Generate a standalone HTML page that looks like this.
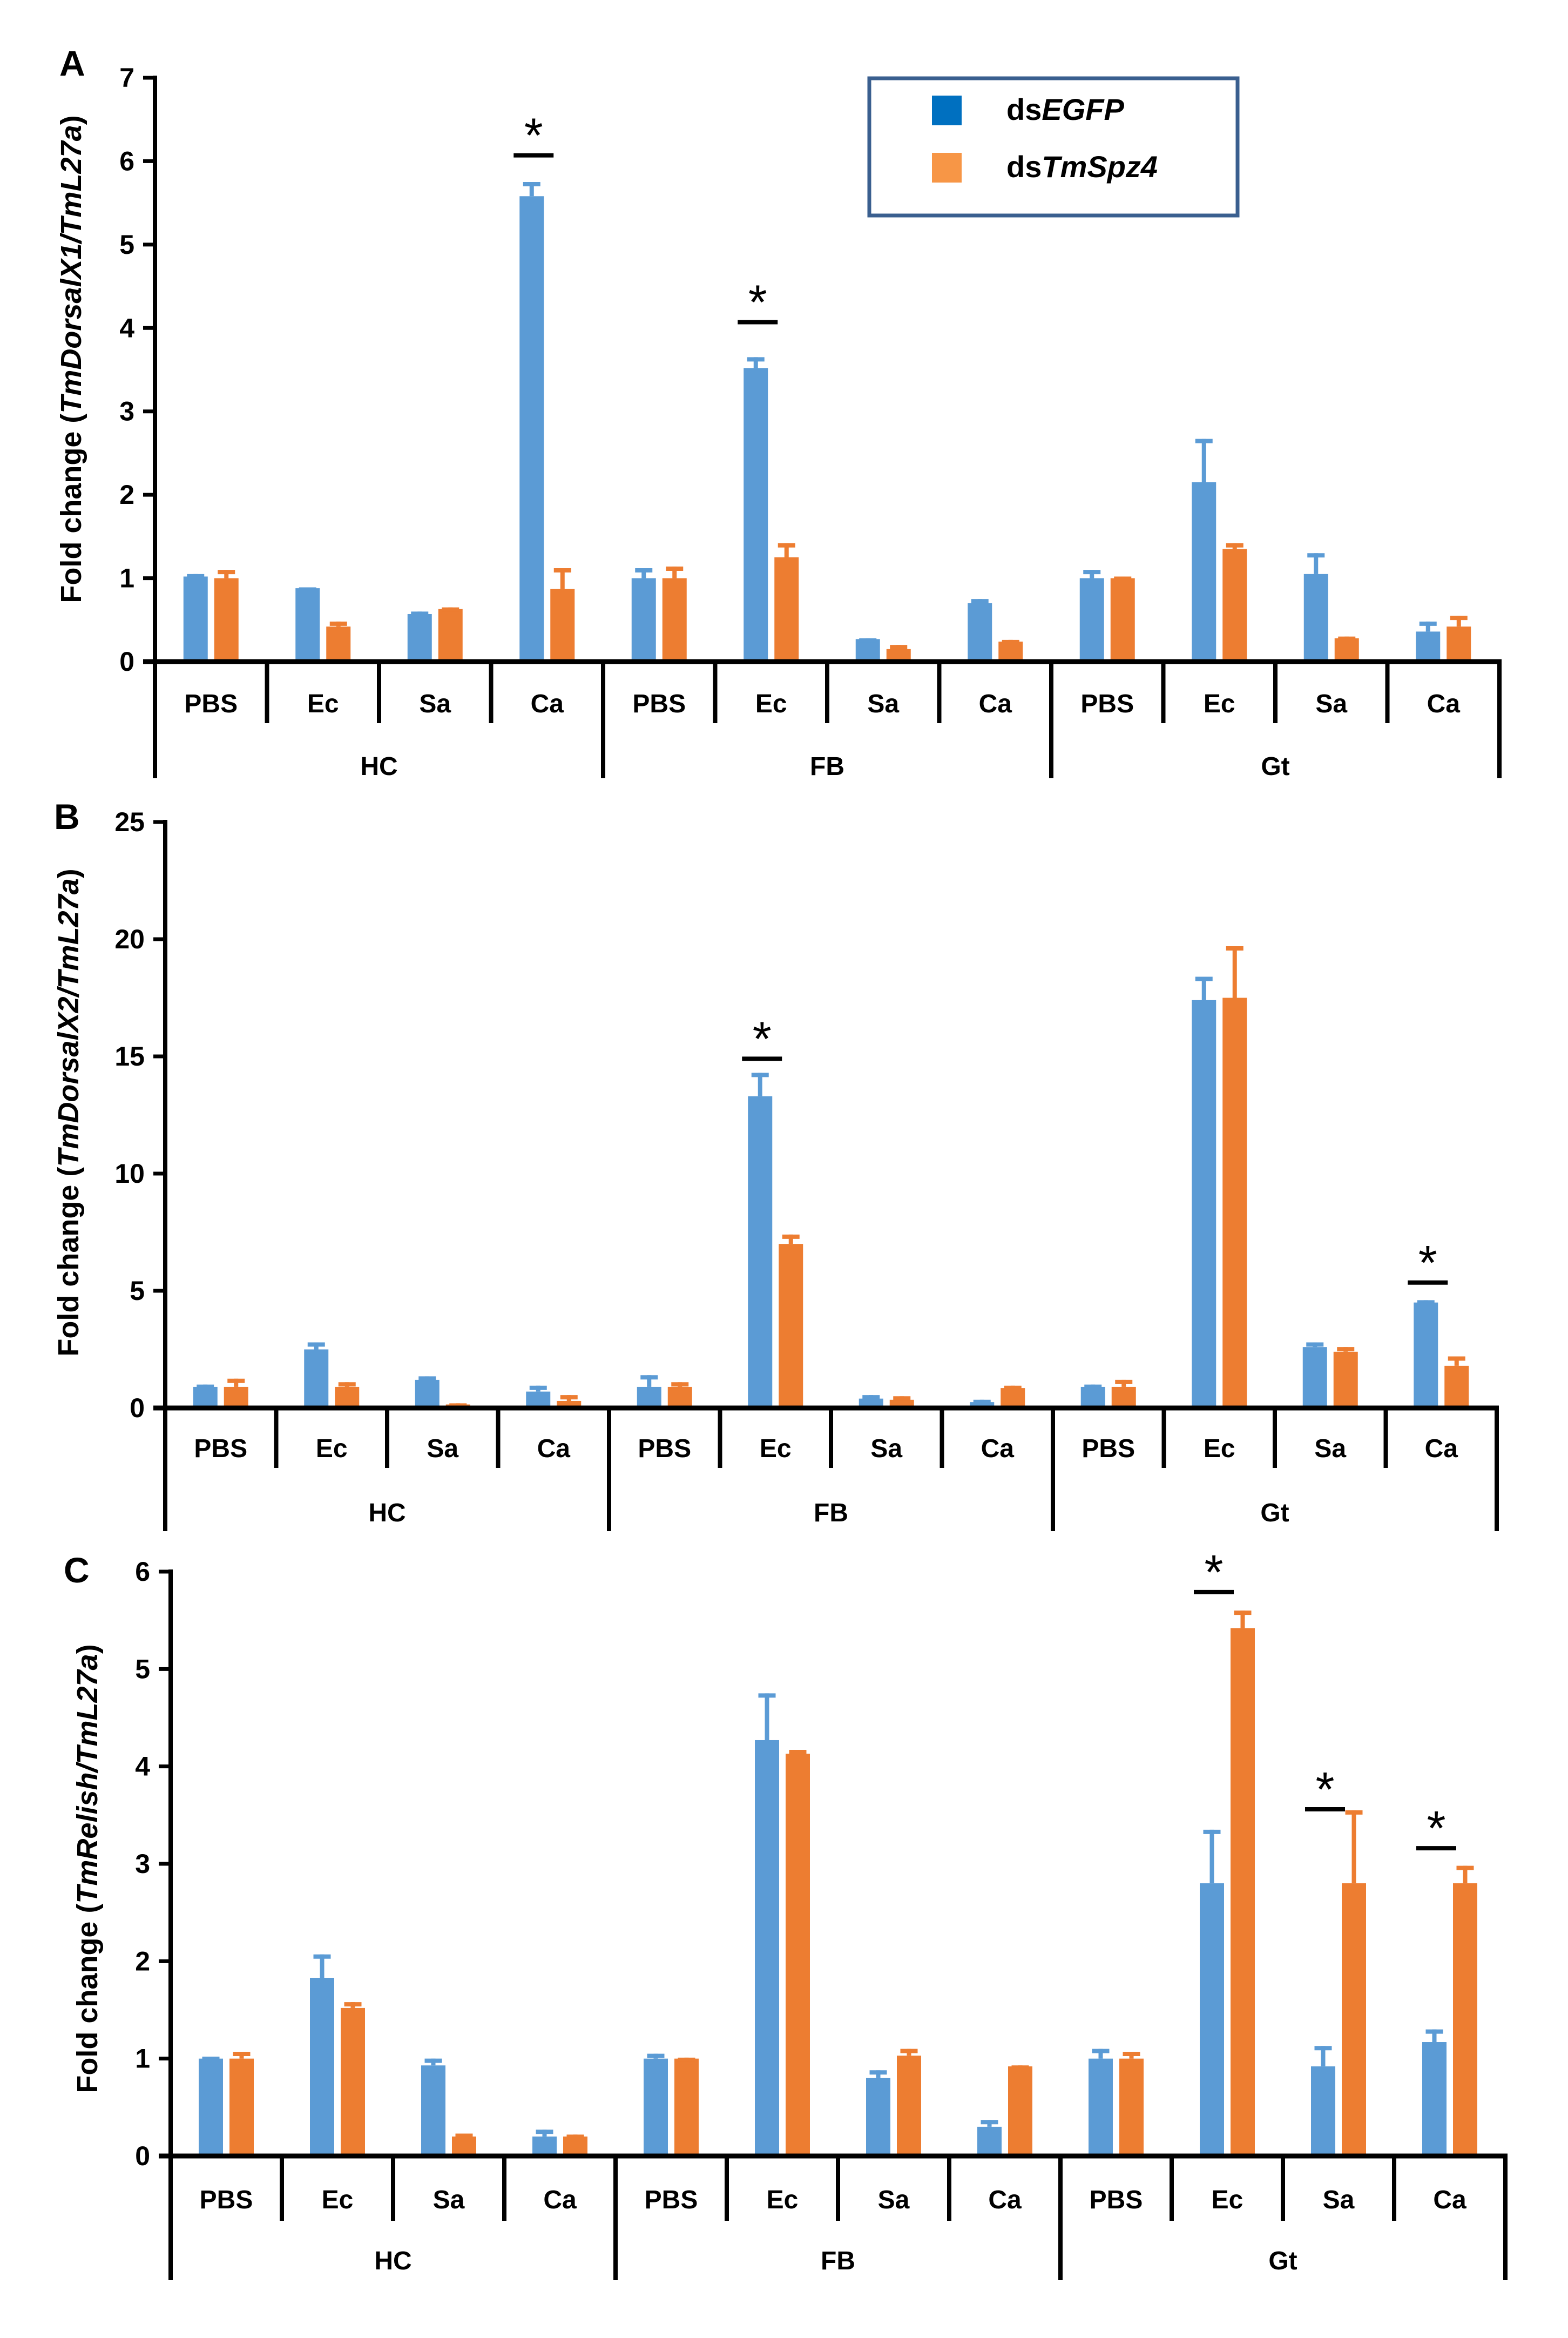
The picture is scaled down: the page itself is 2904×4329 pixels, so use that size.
<!DOCTYPE html>
<html><head><meta charset="utf-8"><style>
html,body{margin:0;padding:0;background:#fff;}
svg{display:block;font-family:"Liberation Sans",sans-serif;font-weight:bold;}
</style></head><body>
<svg id="chart" width="2904" height="4329" viewBox="0 0 2904 4329" xmlns="http://www.w3.org/2000/svg">
<g>
<rect x="1610" y="145" width="682" height="254" fill="#fff" stroke="#3A5F8F" stroke-width="7"/>
<rect x="1726" y="177" width="55" height="55" fill="#0070C0"/>
<text x="1864" y="222" font-size="56">ds<tspan font-style="italic">EGFP</tspan></text>
<rect x="1726" y="283" width="55" height="55" fill="#F79646"/>
<text x="1864" y="328" font-size="56">ds<tspan font-style="italic">TmSpz4</tspan></text>
</g>
</svg>
<script>
const categories = ["PBS","Ec","Sa","Ca","PBS","Ec","Sa","Ca","PBS","Ec","Sa","Ca"];
const groups = ["HC","FB","Gt"];
const ticksA = [0,1,2,3,4,5,6,7];
const ticksB = [0,5,10,15,20,25];
const ticksC = [0,1,2,3,4,5,6];
const blueA = [1.02,0.88,0.57,5.58,1.0,3.52,0.27,0.7,1.0,2.15,1.05,0.36];
const blueErrA = [1.05,0.89,0.6,5.75,1.12,3.65,0.28,0.75,1.1,2.67,1.3,0.48];
const orangeA = [1.0,0.42,0.63,0.87,1.0,1.25,0.15,0.24,1.0,1.35,0.28,0.42];
const orangeErrA = [1.1,0.48,0.65,1.12,1.14,1.42,0.2,0.26,1.02,1.42,0.3,0.55];
const starsA = [[3,6.07],[5,4.07]];
const blueB = [0.9,2.5,1.2,0.7,0.9,13.3,0.4,0.25,0.9,17.4,2.6,4.5];
const blueErrB = [1.0,2.8,1.35,0.95,1.4,14.3,0.55,0.35,1.0,18.4,2.8,4.6];
const orangeB = [0.9,0.9,0.15,0.3,0.9,7.0,0.35,0.85,0.9,17.5,2.4,1.8];
const orangeErrB = [1.25,1.1,0.2,0.55,1.1,7.4,0.5,0.95,1.2,19.7,2.6,2.2];
const starsB = [[5,14.9],[11,5.35]];
const blueC = [1.0,1.83,0.93,0.2,1.0,4.27,0.8,0.3,1.0,2.8,0.92,1.17];
const blueErrC = [1.02,2.07,1.0,0.27,1.05,4.75,0.88,0.37,1.1,3.35,1.13,1.3];
const orangeC = [1.0,1.52,0.2,0.2,1.0,4.13,1.03,0.92,1.0,5.42,2.8,2.8];
const orangeErrC = [1.07,1.58,0.23,0.22,1.01,4.17,1.1,0.93,1.07,5.6,3.55,2.98];
const starsC = [[9,5.79],[10,3.56],[11,3.16]];

const NS="http://www.w3.org/2000/svg";
const svg=document.getElementById('chart');
function mk(tag,attrs,parent){const e=document.createElementNS(NS,tag);for(const k in attrs)e.setAttribute(k,attrs[k]);(parent||svg).appendChild(e);return e;}

function panel(cfg){
  const g=mk('g',{});
  
  
  const x0=cfg.x0, y0=cfg.y0, ytop=cfg.ytop, cw=cfg.cw, ymax=cfg.ticks[cfg.ticks.length-1];
  const yS=v=>y0-(v/ymax)*(y0-ytop);
  const xC=i=>x0+cw*(i+0.5);
  const xEnd=x0+cw*categories.length;
  const series=[[cfg.blue,cfg.blueErr,'#5B9BD5',-51,'dsegfp'],[cfg.orange,cfg.orangeErr,'#ED7D31',6,'dstmspz4']];
  series.forEach(s=>{
    s[0].forEach((v,i)=>{
      const bx=xC(i)+s[3], bw=45;
      const r=mk('rect',{x:bx,y:yS(v),width:bw,height:y0-yS(v),fill:s[2]},g);
      
      
      const e=s[1][i], cx=bx+bw/2;
      const l=mk('line',{x1:cx,x2:cx,y1:yS(v),y2:yS(e),stroke:s[2],'stroke-width':8},g);
      
      
      const c=mk('line',{x1:cx-16,x2:cx+16,y1:yS(e)+4,y2:yS(e)+4,stroke:s[2],'stroke-width':8},g);
      
      
    });
  });
  const ya=mk('line',{x1:x0,x2:x0,y1:ytop-4,y2:y0,stroke:'#000','stroke-width':8},g);
  
  
  cfg.ticks.forEach(t=>{
    mk('line',{x1:x0-22,x2:x0,y1:yS(t),y2:yS(t),stroke:'#000','stroke-width':7},g);
    const tx=mk('text',{x:x0-38,y:yS(t)+17,'font-size':50,'text-anchor':'end'},g);
    tx.textContent=t;
    
    
  });
  const xa=mk('line',{x1:x0-22,x2:xEnd+4,y1:y0,y2:y0,stroke:'#000','stroke-width':9},g);
  
  
  for(let i=0;i<=categories.length;i++){
    const isG=(i%4===0);
    mk('line',{x1:x0+cw*i,x2:x0+cw*i,y1:y0,y2:isG?cfg.gBot:cfg.cBot,stroke:'#000','stroke-width':8},g);
  }
  categories.forEach((c,i)=>{
    const t=mk('text',{x:xC(i),y:cfg.cLab+17,'font-size':48,'text-anchor':'middle'},g);
    t.textContent=c;
    
    
  });
  groups.forEach((gr,i)=>{
    const t=mk('text',{x:x0+cw*(4*i+2),y:cfg.gLab+17,'font-size':48,'text-anchor':'middle'},g);
    t.textContent=gr;
    
    
  });
  cfg.stars.forEach(s=>{
    const c=xC(s[0]), yy=yS(s[1]);
    const l=mk('line',{x1:c-62,x2:c+12,y1:yy,y2:yy,stroke:'#000','stroke-width':8},g);
    
    
    const t=mk('text',{x:c-25,y:yy-6,'font-size':90,'font-weight':'normal','text-anchor':'middle'},g);
    t.textContent='*';
    
    
  });
  const lt=mk('text',{x:cfg.letter[0],y:cfg.letter[1],'font-size':66},g);
  lt.textContent=cfg.id;
  
  
  const yt=mk('text',{x:0,y:0,'font-size':54,'text-anchor':'middle',transform:'translate('+cfg.title[0]+','+cfg.title[1]+') rotate(-90)'},g);
  
  
  yt.innerHTML='Fold change (<tspan font-style="italic">'+cfg.titleIt+'</tspan>)';
}
panel({id:'A',x0:287,y0:1225,ytop:144,cw:207.5,ticks:ticksA,blue:blueA,blueErr:blueErrA,orange:orangeA,orangeErr:orangeErrA,stars:starsA,cBot:1339,gBot:1441,cLab:1302,gLab:1418,letter:[110,140],title:[150,665],titleIt:'TmDorsalX1/TmL27a'});
panel({id:'B',x0:306,y0:2607,ytop:1522,cw:205.5,ticks:ticksB,blue:blueB,blueErr:blueErrB,orange:orangeB,orangeErr:orangeErrB,stars:starsB,cBot:2718,gBot:2835,cLab:2681,gLab:2800,letter:[100,1535],title:[145,2060],titleIt:'TmDorsalX2/TmL27a'});
panel({id:'C',x0:316,y0:3992,ytop:2910,cw:206,ticks:ticksC,blue:blueC,blueErr:blueErrC,orange:orangeC,orangeErr:orangeErrC,stars:starsC,cBot:4112,gBot:4222,cLab:4072,gLab:4185,letter:[118,2930],title:[180,3460],titleIt:'TmRelish/TmL27a'});
</script>
</body></html>
